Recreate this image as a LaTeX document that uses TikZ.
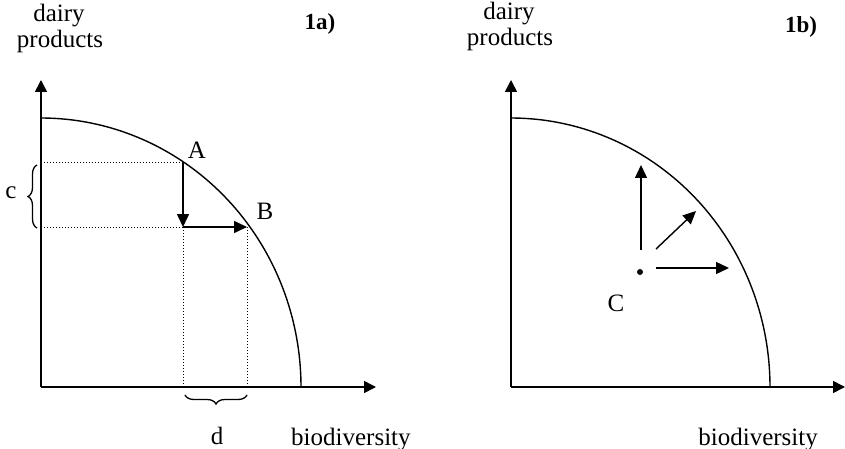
\documentclass[tikz,border=0pt]{standalone}
\usepackage{fontspec}
\setmainfont{Liberation Serif}
\usetikzlibrary{arrows.meta,decorations.pathreplacing}
\begin{document}
\begin{tikzpicture}[x=1pt,y=-1pt,
  axis/.style={line width=1.6pt,-{Triangle[length=12pt,width=12pt]}},
  frontier/.style={line width=1.4pt},
  move/.style={line width=1.6pt,-{Triangle[length=13pt,width=12pt]}},
  guide/.style={line width=1pt,dotted},
  lbl/.style={font=\fontsize{25}{28}\selectfont,inner sep=0pt},
  ttl/.style={font=\fontsize{23}{26}\selectfont\bfseries,inner sep=0pt},
  brc/.style={line width=1.3pt,decorate,decoration={brace,amplitude=9pt}}]
\useasboundingbox (0,0) rectangle (845,449);
% ---------- panel 1a ----------
\coordinate (O1) at (41,387);
\coordinate (Y1) at (41,80);
\coordinate (X1) at (376,387);
\draw[axis] (O1) -- (Y1);
\draw[axis] (O1) -- (X1);
\draw[frontier] plot[smooth,samples=80,domain=0:90] ({41+260*cos(\x)},{387-269*sin(\x)});
\coordinate (A) at (183,163);
\coordinate (K) at (183,227);
\coordinate (B) at (247,227);
\coordinate (Ay) at (41,163);
\coordinate (Ky) at (41,227);
\coordinate (Kx) at (183,387);
\coordinate (Bx) at (247,387);
\draw[guide] (Ay) -- (A);
\draw[guide] (Ky) -- (B);
\draw[guide] (K) -- (Kx);
\draw[guide] (B) -- (Bx);
\draw[move] (A) -- (K);
\draw[move] (K) -- (B);
\node[lbl] (lA) at (197,150) {A};
\node[lbl] (lB) at (265,211) {B};
\coordinate (c1) at (37,228);
\coordinate (c2) at (37,165);
\draw[brc] (c1) -- (c2);
\node[lbl] (lc) at (11,193) {c};
\coordinate (d1) at (247,395);
\coordinate (d2) at (185,395);
\draw[brc] (d1) -- (d2);
\node[lbl] (ld) at (217,436) {d};
\node[lbl,anchor=base] (dy1) at (59,22) {dairy};
\node[lbl,anchor=base] (pr1) at (60,48) {products};
\node[ttl] (t1) at (320,24) {1a)};
\node[lbl,anchor=base west] (bd1) at (291,445) {biodiversity};
% ---------- panel 1b ----------
\coordinate (O2) at (511,387);
\coordinate (Y2) at (511,80);
\coordinate (X2) at (845,387);
\draw[axis] (O2) -- (Y2);
\draw[axis] (O2) -- (X2);
\draw[frontier] plot[smooth,samples=80,domain=0:90] ({511+259*cos(\x)},{387-269*sin(\x)});
\node[circle,fill,inner sep=0pt,minimum size=6pt] (C) at (640,272) {};
\node[lbl] (lC) at (616,303) {C};
\coordinate (u0) at (641,250);
\coordinate (u1) at (641,165);
\coordinate (g0) at (656,249);
\coordinate (g1) at (696,211);
\coordinate (r0) at (656,268);
\coordinate (r1) at (729,268);
\draw[move,line width=1.4pt] (u0) -- (u1);
\draw[move,line width=1.4pt] (g0) -- (g1);
\draw[move,line width=1.4pt] (r0) -- (r1);
\node[lbl,anchor=base] (dy2) at (509,20) {dairy};
\node[lbl,anchor=base] (pr2) at (510,46) {products};
\node[ttl] (t2) at (801,27) {1b)};
\node[lbl,anchor=base east] (bd2) at (818,445) {biodiversity};
\end{tikzpicture}
\end{document}
